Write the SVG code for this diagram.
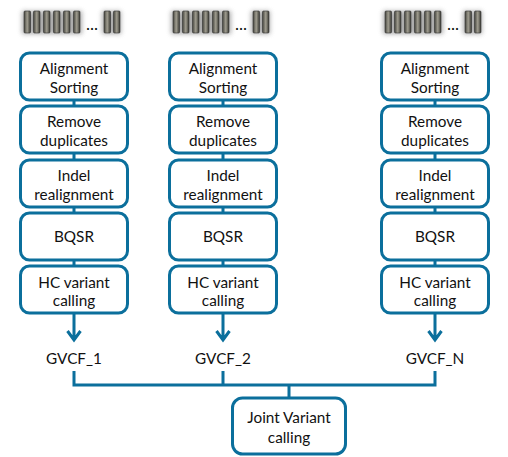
<svg xmlns="http://www.w3.org/2000/svg" width="508" height="457" viewBox="0 0 508 457">
<defs>
<filter id="blur" x="-30%" y="-40%" width="160%" height="180%"><feGaussianBlur stdDeviation="2.4"/></filter>
<linearGradient id="bar" x1="0" x2="1" y1="0" y2="0"><stop offset="0" stop-color="#45453e"/><stop offset="0.5" stop-color="#a09d90"/><stop offset="1" stop-color="#3a3a34"/></linearGradient>
<g id="reads">
<rect x="-2" y="11" width="60" height="23" fill="#777" opacity="0.6" filter="url(#blur)"/>
<rect x="78" y="11" width="19" height="23" fill="#777" opacity="0.6" filter="url(#blur)"/>
<rect x="0" y="11" width="6.500" height="22" rx="1" class="b"/><rect x="9.500" y="11" width="6.500" height="22" rx="1" class="b"/><rect x="19.500" y="11" width="6.500" height="22" rx="1" class="b"/><rect x="29.500" y="11" width="6.500" height="22" rx="1" class="b"/><rect x="39.500" y="11" width="6.500" height="22" rx="1" class="b"/><rect x="49.500" y="11" width="6.500" height="22" rx="1" class="b"/>
<rect x="80" y="11" width="6.500" height="22" rx="1" class="b"/><rect x="89.500" y="11" width="6.500" height="22" rx="1" class="b"/>
</g>
</defs>
<style>
.b{fill:url(#bar);stroke:#333;stroke-width:.6}
.n{fill:#fff;stroke:#0b6f9c;stroke-width:3}
.c{fill:none;stroke:#0b6f9c;stroke-width:3}
text{font-family:"Lato","Open Sans","Liberation Sans",sans-serif;font-size:15.300px;fill:#111;text-anchor:middle}
</style>
<rect width="508" height="457" fill="#fff"/>
<g id="connectors">
<path class="c" d="M74 100V106M74 153V160M74 207V213M74 260V266M74 313V339M67.500 331L74 340L80.500 331"/>
<path class="c" d="M223 100V106M223 153V160M223 207V213M223 260V266M223 313V339M216.500 331L223 340L229.500 331"/>
<path class="c" d="M435 100V106M435 153V160M435 207V213M435 260V266M435 313V339M428.500 331L435 340L441.500 331"/>
<path class="c" d="M74 371V385H435V371M223 371V385M289 385V398"/>
</g>
<g id="reads-1"><use href="#reads" x="24"/><text x="92" y="30" style="font-size:17px">...</text></g>
<g id="reads-2"><use href="#reads" x="173"/><text x="241" y="30" style="font-size:17px">...</text></g>
<g id="reads-3"><use href="#reads" x="385"/><text x="453" y="30" style="font-size:17px">...</text></g>
<g id="c1a"><rect class="n" x="20.500" y="53" width="107" height="47" rx="9"/><text x="74" y="74">Alignment</text><text x="74" y="93">Sorting</text></g>
<g id="c1b"><rect class="n" x="20.500" y="106" width="107" height="47" rx="9"/><text x="74" y="127">Remove</text><text x="74" y="146">duplicates</text></g>
<g id="c1c"><rect class="n" x="20.500" y="160" width="107" height="47" rx="9"/><text x="74" y="181">Indel</text><text x="74" y="200">realignment</text></g>
<g id="c1d"><rect class="n" x="20.500" y="213" width="107" height="47" rx="9"/><text x="74" y="242">BQSR</text></g>
<g id="c1e"><rect class="n" x="20.500" y="266" width="107" height="47" rx="9"/><text x="74" y="288">HC variant</text><text x="74" y="306">calling</text></g>
<g id="c2a"><rect class="n" x="169.500" y="53" width="107" height="47" rx="9"/><text x="223" y="74">Alignment</text><text x="223" y="93">Sorting</text></g>
<g id="c2b"><rect class="n" x="169.500" y="106" width="107" height="47" rx="9"/><text x="223" y="127">Remove</text><text x="223" y="146">duplicates</text></g>
<g id="c2c"><rect class="n" x="169.500" y="160" width="107" height="47" rx="9"/><text x="223" y="181">Indel</text><text x="223" y="200">realignment</text></g>
<g id="c2d"><rect class="n" x="169.500" y="213" width="107" height="47" rx="9"/><text x="223" y="242">BQSR</text></g>
<g id="c2e"><rect class="n" x="169.500" y="266" width="107" height="47" rx="9"/><text x="223" y="288">HC variant</text><text x="223" y="306">calling</text></g>
<g id="c3a"><rect class="n" x="381.500" y="53" width="107" height="47" rx="9"/><text x="435" y="74">Alignment</text><text x="435" y="93">Sorting</text></g>
<g id="c3b"><rect class="n" x="381.500" y="106" width="107" height="47" rx="9"/><text x="435" y="127">Remove</text><text x="435" y="146">duplicates</text></g>
<g id="c3c"><rect class="n" x="381.500" y="160" width="107" height="47" rx="9"/><text x="435" y="181">Indel</text><text x="435" y="200">realignment</text></g>
<g id="c3d"><rect class="n" x="381.500" y="213" width="107" height="47" rx="9"/><text x="435" y="242">BQSR</text></g>
<g id="c3e"><rect class="n" x="381.500" y="266" width="107" height="47" rx="9"/><text x="435" y="288">HC variant</text><text x="435" y="306">calling</text></g>
<g id="gvcf1"><text x="74" y="364">GVCF_1</text></g>
<g id="gvcf2"><text x="223" y="364">GVCF_2</text></g>
<g id="gvcfn"><text x="435" y="364">GVCF_N</text></g>
<g id="joint"><rect class="n" x="232.500" y="398" width="113" height="56" rx="10"/><text x="289" y="423">Joint Variant</text><text x="289" y="443">calling</text></g>
</svg>
